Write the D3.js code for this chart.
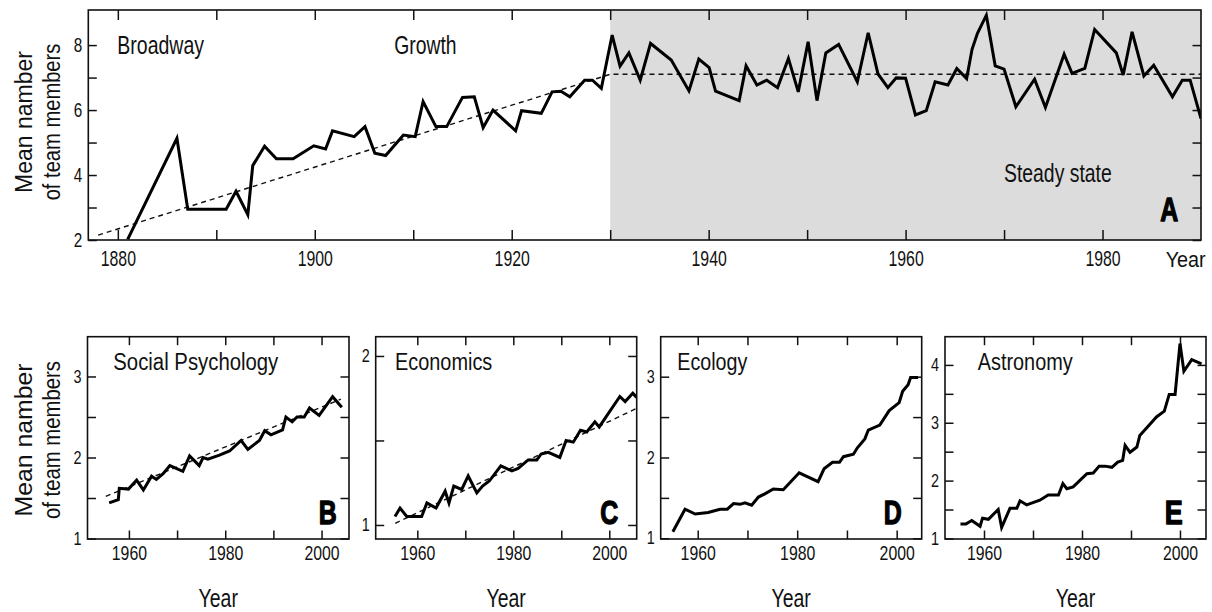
<!DOCTYPE html>
<html><head><meta charset="utf-8">
<script src="https://cdn.jsdelivr.net/npm/d3@7"></script>
<style>
html,body{margin:0;padding:0;background:#fff;}
svg{display:block;}
text{font-family:"Liberation Sans Narrow","Arial Narrow","Liberation Sans",Arial,sans-serif;fill:#111;}
</style></head><body>
<svg id="chart" width="1212" height="612"></svg>
<script>
// ---------- DATA ----------
const yearsA = [1881,1886,1887.1,1891,1892,1893.2,1893.7,1894.9,1896.1,1897.8,1899.9,1901.1,1901.8,1904,1905.1,1906.1,1907.2,1909,1910.2,1911,1912.3,1913.4,1915,1916.2,1917.1,1918.1,1920.4,1921,1923,1924.1,1925,1925.9,1927.4,1928.2,1929.1,
  1930.2,1931,1931.9,1933.05,1934.1,1936.2,1938,1939,1940.05,1940.7,1943.1,1943.8,1944.9,1945.9,1947,1948.1,1949.1,1950.1,1951,1951.9,1953.2,1955.1,1956.2,1957.2,1958.2,1959.05,1960,
  1961,1962.1,1963,1964.3,1965.2,1966.2,1966.75,1967.3,1968.2,1969.1,1970,1971.2,1973.1,1974.2,1976.1,1976.9,1978.2,1979.2,1981.4,1982.1,1983,1984.2,1985.2,1987.1,1988.1,1988.9,1990];
const valuesA = [2.02,5.13,2.95,2.95,3.5,2.78,4.29,4.89,4.5,4.5,4.9,4.8,5.36,5.18,5.49,4.67,4.6,5.23,5.18,6.26,5.49,5.49,6.39,6.41,5.46,6.0,5.36,5.98,5.9,6.56,6.58,6.41,6.92,6.92,6.67,
  8.31,7.35,7.76,6.92,8.05,7.54,6.59,7.57,7.31,6.58,6.29,7.36,6.77,6.92,6.69,7.59,6.56,8.1,6.29,7.76,8.02,6.87,8.38,7.11,6.69,6.99,6.98,
  5.85,5.98,6.87,6.77,7.28,6.97,7.87,8.36,8.92,7.36,7.26,6.1,6.95,6.08,7.72,7.13,7.28,8.48,7.76,7.08,8.41,7.05,7.38,6.41,6.92,6.92,5.74];
const trendYearsA = [1878, 1930, 1990];
const trendValuesA = [2.15, 7.1, 7.1];
const steadyStartA = 1930;

const yearsB = [1955.9,1957.8,1958.0,1959.9,1961.6,1963.0,1964.7,1965.7,1967.1,1968.5,1971.2,1972.6,1974.6,1975.4,1976.4,1978.8,1980.9,1983.3,1984.7,1987.1,1988.2,1989.5,1991.9,1992.6,1993.9,1994.9,1996.4,1997.5,1999.5,2002.3,2004.2];
const valuesB = [1.44,1.48,1.62,1.61,1.72,1.60,1.77,1.73,1.80,1.90,1.83,2.02,1.90,2.00,1.98,2.03,2.08,2.21,2.10,2.21,2.33,2.28,2.34,2.50,2.44,2.50,2.50,2.61,2.52,2.75,2.62];
const trendYearsB = [1955.2, 2004.0];
const trendValuesB = [1.52, 2.72];

const yearsC = [1955.35,1956.4,1957.8,1960.9,1962.0,1963.9,1965.8,1966.6,1967.6,1969.25,1970.6,1972.4,1973.6,1975.0,1977.4,1979.7,1981.0,1983.1,1984.9,1985.8,1987.3,1989.7,1991.0,1992.5,1994.0,1995.3,1997.0,1997.9,2002.2,2003.3,2004.9,2005.7];
const valuesC = [1.05,1.10,1.05,1.05,1.13,1.10,1.20,1.13,1.23,1.21,1.29,1.19,1.23,1.26,1.35,1.32,1.335,1.385,1.385,1.42,1.43,1.40,1.50,1.49,1.56,1.55,1.61,1.58,1.76,1.73,1.78,1.755];
const trendYearsC = [1955.4, 2005.7];
const trendValuesC = [1.01, 1.69];

const yearsD = [1955.0,1957.45,1959.5,1962.1,1964.5,1965.95,1967.2,1968.5,1969.5,1970.85,1972.2,1973.5,1975.2,1977.2,1980.4,1984.2,1985.4,1987.1,1988.5,1989.3,1991.3,1992.1,1993.6,1994.3,1996.6,1998.5,2000.5,2001.2,2002.3,2002.8,2004.3];
const valuesD = [1.08,1.36,1.30,1.32,1.36,1.36,1.43,1.42,1.44,1.41,1.51,1.55,1.61,1.60,1.81,1.70,1.86,1.94,1.94,2.01,2.04,2.12,2.23,2.34,2.40,2.58,2.68,2.82,2.90,2.99,2.99];

const yearsE = [1955.2,1956.3,1957.5,1959.2,1959.7,1960.9,1962.9,1963.6,1965.3,1966.7,1967.35,1968.7,1971.4,1973.1,1975.2,1976.1,1976.9,1978.2,1981.0,1982.3,1983.5,1984.7,1986.1,1987.3,1988.3,1988.8,1989.8,1991.2,1991.8,1993.5,1995.2,1996.8,1997.8,1999.0,2000.0,2000.8,2002.4,2004.4];
const valuesE = [1.25,1.25,1.31,1.21,1.35,1.33,1.50,1.19,1.52,1.52,1.65,1.58,1.66,1.75,1.75,1.95,1.86,1.89,2.12,2.13,2.25,2.25,2.23,2.32,2.35,2.61,2.49,2.58,2.78,2.94,3.10,3.20,3.49,3.49,4.37,3.89,4.09,4.02];

const xTicksA = [1880,1890,1900,1910,1920,1930,1940,1950,1960,1970,1980];
const xLabelsA = [1880,1900,1920,1940,1960,1980];
const yTicksA = [2,3,4,5,6,7,8];
const yLabelsA = [2,4,6,8];
const xTicksSmall = [1960,1970,1980,1990,2000];
const xLabelsSmall = [1960,1980,2000];
const yTicksB = [1,1.5,2,2.5,3], yLabelsB = [1,2,3];
const yTicksC = [1,1.5,2], yLabelsC = [1,2];
const yTicksD = [1,1.5,2,2.5,3], yLabelsD = [1,2,3];
const yTicksE = [1,1.5,2,2.5,3,3.5,4], yLabelsE = [1,2,3,4];

const yLabelLines = ["Mean namber", "of team members"];
const xAxisTitle = "Year";

// ---------- DRAWING ----------
const svg = d3.select("#chart");
svg.append("rect").attr("width",1212).attr("height",612).attr("fill","#fff");

function addText(sel, s, x, y, size, len, anchor, weight) {
  const t = sel.append("text").attr("x",x).attr("y",y).attr("font-size",size)
    .attr("text-anchor",anchor||"start").attr("font-weight",weight||400).text(s);
  if (len) t.attr("textLength",len).attr("lengthAdjust","spacingAndGlyphs");
  return t;
}

let clipN = 0;
function drawPanel(cfg) {
  const x = d3.scaleLinear().domain(cfg.xDomain).range(cfg.xRange);
  const y = d3.scaleLinear().domain(cfg.yDomain).range(cfg.yRange);
  const [x0,x1] = cfg.xRange, [y0,y1] = cfg.yRange;
  const g = svg.append("g");
  const cid = "clip" + (clipN++);
  g.append("clipPath").attr("id",cid).append("rect")
    .attr("x",x0).attr("y",y1).attr("width",x1-x0).attr("height",y0-y1);

  if (cfg.shadeFrom != null) {
    g.append("rect").attr("x",x(cfg.shadeFrom)).attr("y",y1)
      .attr("width",x1-x(cfg.shadeFrom)).attr("height",y0-y1).attr("fill","#dcdcdc");
  }
  const fmt = labels => d => labels.includes(d) ? String(d) : "";
  const styleAxis = (a, size, cw) => {
    a.select(".domain").remove();
    a.attr("font-size",size).attr("font-family",null).attr("color","#111");
    a.selectAll(".tick line").attr("stroke-width",1.5);
    a.selectAll(".tick text").each(function() {
      const s = this.textContent;
      if (s) d3.select(this).attr("textLength", s.length * cw).attr("lengthAdjust","spacingAndGlyphs");
    });
  };
  g.append("g").attr("transform",`translate(0,${y0})`)
    .call(d3.axisBottom(x).tickValues(cfg.xTicks).tickSizeInner(-cfg.tlx).tickSizeOuter(0)
      .tickPadding(cfg.xPad).tickFormat(fmt(cfg.xLabels)))
    .call(a => styleAxis(a, cfg.xFont, cfg.xcw));
  g.append("g").attr("transform",`translate(0,${y1})`)
    .call(d3.axisTop(x).tickValues(cfg.xTicks).tickSizeInner(-cfg.tlx).tickSizeOuter(0).tickFormat(""))
    .call(a => styleAxis(a, cfg.xFont, cfg.xcw));
  g.append("g").attr("transform",`translate(${x0},0)`)
    .call(d3.axisLeft(y).tickValues(cfg.yTicks).tickSizeInner(-cfg.tly).tickSizeOuter(0)
      .tickPadding(cfg.yPad).tickFormat(fmt(cfg.yLabels)))
    .call(a => styleAxis(a, cfg.yFont, cfg.ycw));
  g.append("g").attr("transform",`translate(${x1},0)`)
    .call(d3.axisRight(y).tickValues(cfg.yTicks).tickSizeInner(-cfg.tly).tickSizeOuter(0).tickFormat(""))
    .call(a => styleAxis(a, cfg.yFont, cfg.ycw));

  const line = d3.line().x(d => x(d[0])).y(d => y(d[1]));
  const plot = g.append("g").attr("clip-path",`url(#${cid})`);
  if (cfg.trendX) {
    plot.append("path").datum(d3.zip(cfg.trendX, cfg.trendY)).attr("d",line)
      .attr("fill","none").attr("stroke","#111").attr("stroke-width",1.4).attr("stroke-dasharray","5,4");
  }
  plot.append("path").datum(d3.zip(cfg.xs, cfg.ys)).attr("d",line)
    .attr("fill","none").attr("stroke","#000").attr("stroke-width",3)
    .attr("stroke-linejoin","miter").attr("stroke-miterlimit",4);

  g.append("rect").attr("x",x0).attr("y",y1).attr("width",x1-x0).attr("height",y0-y1)
    .attr("fill","none").attr("stroke","#111").attr("stroke-width",1.6);
  return {g, x, y};
}

function bigLetter(s, xr, yb) {
  addText(svg, s, xr, yb, 33, 18, "end", 700)
    .style("fill","#000").attr("stroke","#000").attr("stroke-width",1.3).attr("stroke-linejoin","round");
}

// Panel A
drawPanel({
  xDomain:[1877,1990], xRange:[88.3,1201], yDomain:[2,9.08], yRange:[240,10],
  xTicks:xTicksA, xLabels:xLabelsA, yTicks:yTicksA, yLabels:yLabelsA,
  tlx:10, tly:8.5, xPad:10.5, yPad:6, xFont:22.5, yFont:19.5, xcw:8.8, ycw:8.5,
  shadeFrom:steadyStartA, xs:yearsA, ys:valuesA, trendX:trendYearsA, trendY:trendValuesA
});
addText(svg,"Broadway",117.3,54,26,86.7);
addText(svg,"Growth",394.3,54,26,62.3);
addText(svg,"Steady state",1004,181.7,25.5,107.7);
bigLetter("A",1178.3,220.7);
addText(svg,xAxisTitle,1165.7,266.7,22.5,40);

// y labels
function yLabel(cy, len1, len2) {
  const g1 = svg.append("g").attr("transform",`translate(32.3,${cy}) rotate(-90)`);
  addText(g1, yLabelLines[0], 0, 0, 23.3, len1, "middle");
  const g2 = svg.append("g").attr("transform",`translate(60,${cy}) rotate(-90)`);
  addText(g2, yLabelLines[1], 0, 0, 23.3, len2, "middle");
}
yLabel(122, 142, 156.7);
yLabel(440, 153, 158);

// Small panels
const small = [
  {xDomain:[1951.4,2005.7], xRange:[87.5,349], yDomain:[0.994,3.491], yTicks:yTicksB, yLabels:yLabelsB,
   xs:yearsB, ys:valuesB, trendX:trendYearsB, trendY:trendValuesB,
   title:"Social Psychology", tx:113.3, tlen:165, letter:"B", lx:336.7},
  {xDomain:[1951.33,2005.71], xRange:[375.7,636.7], yDomain:[0.917,2.114], yTicks:yTicksC, yLabels:yLabelsC,
   xs:yearsC, ys:valuesC, trendX:trendYearsC, trendY:trendValuesC,
   title:"Economics", tx:395, tlen:97.3, letter:"C", lx:618.3},
  {xDomain:[1952.56,2005.03], xRange:[660.7,921.7], yDomain:[0.991,3.495], yTicks:yTicksD, yLabels:yLabelsD,
   xs:yearsD, ys:valuesD, title:"Ecology", tx:677.3, tlen:70, letter:"D", lx:901.7},
  {xDomain:[1952.04,2005.31], xRange:[945,1206], yDomain:[0.99,4.488], yTicks:yTicksE, yLabels:yLabelsE,
   xs:yearsE, ys:valuesE, title:"Astronomy", tx:977.7, tlen:95, letter:"E", lx:1182.7}
];
small.forEach(p => {
  drawPanel(Object.assign({yRange:[539,336.7], xTicks:xTicksSmall, xLabels:xLabelsSmall,
    tlx:8.5, tly:8.5, xPad:6, yPad:6, xFont:20.5, yFont:17.5, xcw:8.8, ycw:8}, p));
  addText(svg, p.title, p.tx, 370, 23.5, p.tlen);
  bigLetter(p.letter, p.lx, 523.5);
  addText(svg, xAxisTitle, (p.xRange[0]+p.xRange[1])/2, 607, 26.5, 39.3, "middle");
});
</script></body></html>
